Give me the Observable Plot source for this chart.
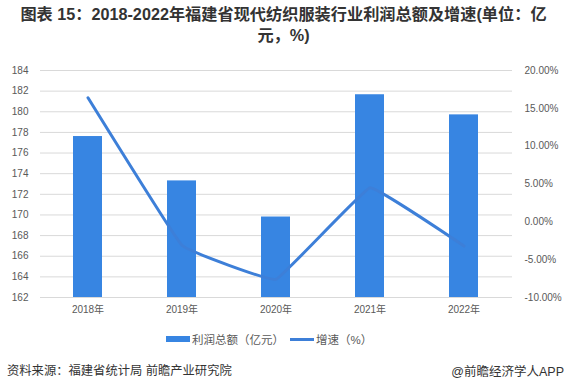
<!DOCTYPE html>
<html><head><meta charset="utf-8">
<script src="https://cdn.jsdelivr.net/npm/d3@7"></script>
<script src="https://cdn.jsdelivr.net/npm/@observablehq/plot@0.6"></script>
<style>
body{margin:0;width:567px;height:389px;position:relative;background:#fff;font-family:"Liberation Sans","Noto Sans CJK SC",sans-serif;overflow:hidden}
#title{position:absolute;left:0;top:4px;width:567px;text-align:center;font-weight:bold;font-size:16.2px;line-height:21px;color:#333}
#chart{position:absolute;left:0;top:50px}
#legend{position:absolute;left:0;top:331px;width:567px;font-size:11.5px;color:#595959}
#legend .item{position:absolute;top:0;display:flex;align-items:center;height:16px}
#footer-l{position:absolute;left:7px;top:361px;font-size:12.3px;color:#333}
#footer-r{position:absolute;right:3px;top:361px;font-size:12.5px;color:#333}
</style></head>
<body>
<div id="title">图表 15：2018-2022年福建省现代纺织服装行业利润总额及增速(单位：亿<br>元，%)</div>
<div id="chart"></div>
<div id="legend">
  <div class="item" style="left:166px"><span style="display:inline-block;width:24px;height:6px;background:#3785e2;margin-right:2px"></span>利润总额（亿元）</div>
  <div class="item" style="left:290px"><span style="display:inline-block;width:24px;height:3px;background:#3d7fd8;margin-right:2px"></span>增速（%）</div>
</div>
<div id="footer-l">资料来源：福建省统计局 前瞻产业研究院</div>
<div id="footer-r">@前瞻经济学人APP</div>
<script>
const years = ["2018年","2019年","2020年","2021年","2022年"];
const profit = [177.6, 173.3, 169.8, 181.65, 179.7];
const growth = [16.4, -3.1, -7.6, 4.5, -3.2];
const leftTicks = [162,164,166,168,170,172,174,176,178,180,182,184];
const rightTicks = [-10,-5,0,5,10,15,20];

const L0 = 162, L1 = 184, R0 = -10, R1 = 20;
const toLeft = p => L0 + (p - R0) / (R1 - R0) * (L1 - L0);

const data = years.map((y, i) => ({year: y, profit: profit[i], growth: growth[i], g: toLeft(growth[i])}));

const chart = Plot.plot({
  width: 567,
  height: 272,
  marginLeft: 40,
  marginRight: 55,
  marginTop: 20,
  marginBottom: 25,
  style: {fontFamily: '"Liberation Sans","Noto Sans CJK SC",sans-serif', fontSize: "10px", color: "#595959", background: "#fff"},
  x: {domain: years, paddingInner: 0.69, paddingOuter: 0.345, label: null},
  y: {domain: [L0, L1], label: null},
  marks: [
    Plot.ruleY(leftTicks, {stroke: "#d9d9d9", strokeWidth: 1}),
    Plot.barY(data, {x: "year", y1: L0, y2: "profit", fill: "#3785e2"}),
    Plot.line(data, {x: "year", y: "g", stroke: "#3d7fd8", strokeWidth: 3, curve: d3.curveCardinal.tension(0.8), strokeLinejoin: "round"}),
    Plot.axisY(leftTicks, {anchor: "left", tickSize: 0, tickPadding: 12, label: null, tickFormat: d => d, fill: "#595959"}),
    Plot.axisY(rightTicks.map(toLeft), {anchor: "right", tickSize: 0, tickPadding: 12, label: null, textAnchor: "start", tickFormat: v => (((v - L0) / (L1 - L0)) * (R1 - R0) + R0).toFixed(2) + "%", fill: "#595959"}),
    Plot.axisX({tickSize: 0, tickPadding: 8, label: null, fill: "#595959"})
  ]
});
document.getElementById("chart").appendChild(chart);
</script>
</body></html>
